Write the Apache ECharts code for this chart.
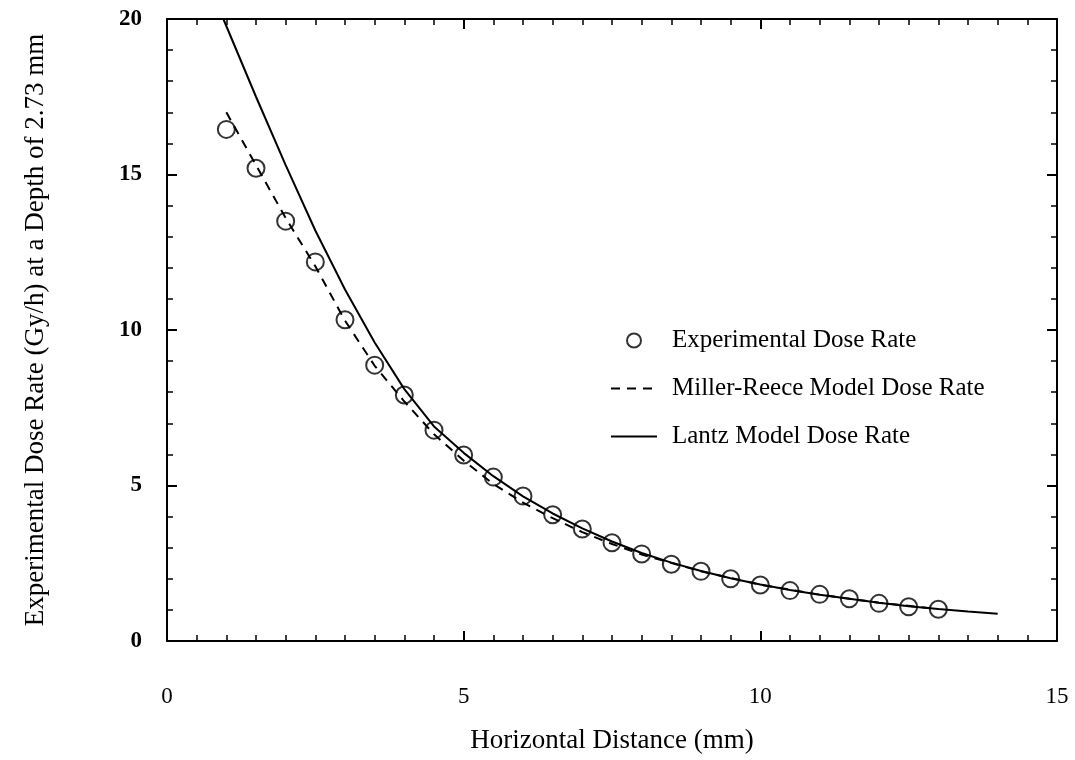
<!DOCTYPE html>
<html>
<head>
<meta charset="utf-8">
<script src="https://cdn.jsdelivr.net/npm/echarts@6/dist/echarts.min.js"></script>
<style>
html, body { margin: 0; padding: 0; background: #fff; }
#main { width: 1075px; height: 760px; }
</style>
</head>
<body>
<div id="main"></div>
<script>
// experimental points (mm, Gy/h)
var expX = [1, 1.5, 2, 2.5, 3, 3.5, 4, 4.5, 5, 5.5, 6, 6.5, 7, 7.5, 8, 8.5, 9, 9.5, 10, 10.5, 11, 11.5, 12, 12.5, 13];
var expY = [16.45, 15.2, 13.5, 12.19, 10.33, 8.87, 7.91, 6.78, 5.98, 5.27, 4.66, 4.06, 3.6, 3.16, 2.8, 2.47, 2.24, 2.0, 1.8, 1.62, 1.5, 1.36, 1.21, 1.1, 1.02];

// Miller-Reece model
var millerX = [1, 1.5, 2, 2.5, 3, 3.5, 4, 4.5, 5, 5.5, 6, 6.5, 7, 7.5, 8, 9, 10, 11, 12, 13];
var millerY = [17.0, 15.3, 13.6, 12.05, 10.3, 8.85, 7.7, 6.65, 5.8, 5.05, 4.45, 3.95, 3.5, 3.12, 2.78, 2.24, 1.81, 1.49, 1.23, 1.03];

// Lantz model
var lantzX = [0.95, 1.5, 2, 2.5, 3, 3.5, 4, 4.5, 5, 5.5, 6, 6.5, 7, 7.5, 8, 8.5, 9, 9.5, 10, 10.5, 11, 11.5, 12, 12.5, 13, 13.5, 14];
var lantzY = [20, 17.5, 15.3, 13.2, 11.3, 9.6, 8.1, 6.9, 6.05, 5.3, 4.65, 4.1, 3.62, 3.2, 2.83, 2.52, 2.25, 2.02, 1.82, 1.64, 1.49, 1.36, 1.23, 1.12, 1.03, 0.95, 0.88];

function pairs(xs, ys) {
	var out = [];
	for (var i = 0; i < xs.length; i++) out.push([xs[i], ys[i]]);
	return out;
}

var font = "'Liberation Serif', 'DejaVu Serif', serif";
var chart = echarts.init(document.getElementById('main'));

var axLine = { onZero: false, lineStyle: { color: '#000', width: 2 } };
var axTick = { inside: true, length: 10, lineStyle: { color: '#000', width: 2 } };
function minor(n) {
	return { show: true, splitNumber: n, length: 6, lineStyle: { color: '#000', width: 1.5 } };
}

var option = {
	backgroundColor: '#fff',
	animation: false,
	grid: { left: 167, top: 19, right: 18, bottom: 119 },
	legend: {
		orient: 'vertical',
		left: 605,
		top: 323,
		itemWidth: 46,
		itemHeight: 14,
		itemGap: 23,
		textStyle: { fontFamily: font, fontSize: 25, color: '#000', padding: [0, 0, 0, 10] },
		data: [
			{ name: 'Experimental Dose Rate' },
			{ name: 'Miller-Reece Model Dose Rate', itemStyle: { opacity: 0 } },
			{ name: 'Lantz Model Dose Rate', itemStyle: { opacity: 0 } }
		]
	},
	xAxis: [
		{
			type: 'value', min: 0, max: 15, interval: 5, position: 'bottom',
			axisLine: axLine, axisTick: axTick, minorTick: minor(10), splitLine: { show: false },
			axisLabel: { margin: 44, fontFamily: font, fontSize: 23, color: '#000' },
			name: 'Horizontal Distance (mm)', nameLocation: 'middle', nameGap: 86,
			nameTextStyle: { fontFamily: font, fontSize: 27, color: '#000' }
		},
		{
			type: 'value', min: 0, max: 15, interval: 5, position: 'top',
			axisLine: axLine, axisTick: axTick, minorTick: minor(10), splitLine: { show: false },
			axisLabel: { show: false }
		}
	],
	yAxis: [
		{
			type: 'value', min: 0, max: 20, interval: 5, position: 'left',
			axisLine: axLine, axisTick: axTick, minorTick: minor(5), splitLine: { show: false },
			axisLabel: { margin: 25, fontFamily: font, fontSize: 23, fontWeight: 'bold', color: '#000' },
			name: 'Experimental Dose Rate (Gy/h) at a Depth of 2.73 mm', nameLocation: 'middle', nameGap: 118,
			nameTextStyle: { fontFamily: font, fontSize: 27, color: '#000', padding: [0, 0, 0, 0] }
		},
		{
			type: 'value', min: 0, max: 20, interval: 5, position: 'right',
			axisLine: axLine, axisTick: axTick, minorTick: minor(5), splitLine: { show: false },
			axisLabel: { show: false }
		}
	],
	series: [
		{
			name: 'Experimental Dose Rate',
			type: 'scatter',
			symbol: 'circle',
			symbolSize: 17,
			itemStyle: { color: 'rgba(255,255,255,0)', borderColor: '#000', borderWidth: 2 },
			data: pairs(expX, expY),
			z: 3
		},
		{
			name: 'Miller-Reece Model Dose Rate',
			type: 'line',
			symbol: 'none',
			lineStyle: { color: '#000', width: 2, type: [9, 7] },
			itemStyle: { color: '#000' },
			data: pairs(millerX, millerY),
			z: 2
		},
		{
			name: 'Lantz Model Dose Rate',
			type: 'line',
			symbol: 'none',
			lineStyle: { color: '#000', width: 2 },
			itemStyle: { color: '#000' },
			data: pairs(lantzX, lantzY),
			z: 2
		}
	]
};
chart.setOption(option);
</script>
</body>
</html>
